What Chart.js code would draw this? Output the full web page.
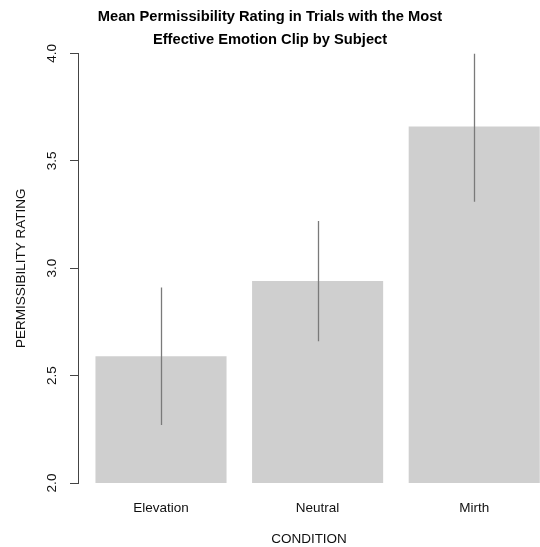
<!DOCTYPE html>
<html>
<head>
<meta charset="utf-8">
<script src="https://cdn.jsdelivr.net/npm/chart.js@4"></script>
<style>
  html, body { margin: 0; padding: 0; background: #fff; overflow: hidden; }
</style>
</head>
<body>
<canvas id="chart" width="540" height="547"></canvas>
<script>
// values
const categories = ["Elevation", "Neutral", "Mirth"];
const meanRating = [2.59, 2.94, 3.66];
const errLow = [2.27, 2.66, 3.31];
const errHigh = [2.91, 3.22, 4.0];
const yTicks = [2.0, 2.5, 3.0, 3.5, 4.0];

const FONT = "'Liberation Sans', Arial, Helvetica, sans-serif";

// error bars + rotated y tick labels + y title (R style)
const extras = {
  id: "extras",
  afterDatasetsDraw(chart) {
    const { ctx, chartArea, scales } = chart;
    const x = scales.x, y = scales.y;
    ctx.save();
    ctx.beginPath();
    ctx.rect(chartArea.left, chartArea.top, chartArea.right - chartArea.left, chartArea.bottom - chartArea.top);
    ctx.clip();
    ctx.strokeStyle = "#7a7a7a";
    ctx.lineWidth = 1.3;
    categories.forEach((c, i) => {
      const px = Math.round(x.getPixelForValue(i + 1)) + 0.5;
      ctx.beginPath();
      ctx.moveTo(px, y.getPixelForValue(errLow[i]));
      ctx.lineTo(px, y.getPixelForValue(errHigh[i]));
      ctx.stroke();
    });
    ctx.restore();
  },
  afterDraw(chart) {
    const { ctx, chartArea, scales } = chart;
    const y = scales.y;
    ctx.save();
    ctx.fillStyle = "#111";
    ctx.textAlign = "center";
    ctx.textBaseline = "middle";
    ctx.font = "13.5px " + FONT;
    yTicks.forEach(v => {
      ctx.save();
      ctx.translate(chartArea.left - 26, y.getPixelForValue(v));
      ctx.rotate(-Math.PI / 2);
      ctx.fillText(v.toFixed(1), 0, 0);
      ctx.restore();
    });
    ctx.translate(21, (chartArea.top + chartArea.bottom) / 2);
    ctx.rotate(-Math.PI / 2);
    ctx.fillText("PERMISSIBILITY RATING", 0, 0);
    ctx.restore();
  }
};

new Chart(document.getElementById("chart"), {
  type: "bar",
  data: {
    labels: categories,
    datasets: [{
      data: meanRating.map((v, i) => ({ x: i + 1, y: v })),
      backgroundColor: "#cfcfcf",
      borderWidth: 0,
      categoryPercentage: 1,
      barPercentage: 0.837
    }]
  },
  options: {
    responsive: false,
    animation: false,
    layout: { padding: 0 },
    plugins: {
      legend: { display: false },
      tooltip: { enabled: false },
      title: {
        display: true,
        text: ["Mean Permissibility Rating in Trials with the Most", "Effective Emotion Clip by Subject"],
        color: "#000",
        font: { family: FONT, size: 14.7, weight: "bold", lineHeight: 1.58 },
        padding: { top: 5, bottom: 2 }
      }
    },
    scales: {
      x: {
        type: "linear",
        offset: false,
        min: 0.47,
        max: 3.42,
        afterBuildTicks: s => { s.ticks = categories.map((c, i) => ({ value: i + 1 })); },
        afterFit: s => { s.height = 64; },
        grid: { display: false },
        border: { display: false },
        ticks: {
          color: "#111",
          padding: 9,
          maxRotation: 0,
          font: { family: FONT, size: 13.5 },
          callback: v => categories[v - 1]
        },
        title: {
          display: true,
          text: "CONDITION",
          color: "#111",
          padding: 0,
          font: { family: FONT, size: 13.5 }
        }
      },
      y: {
        min: 2,
        max: 4,
        afterBuildTicks: s => { s.ticks = yTicks.map(v => ({ value: v })); },
        afterFit: s => { s.width = 78; },
        grid: {
          drawOnChartArea: false,
          drawTicks: true,
          tickLength: 8,
          color: "#444",
          lineWidth: 1
        },
        border: { display: true, color: "#444", width: 1 },
        ticks: { display: false }
      }
    }
  },
  plugins: [extras]
});
</script>
</body>
</html>
